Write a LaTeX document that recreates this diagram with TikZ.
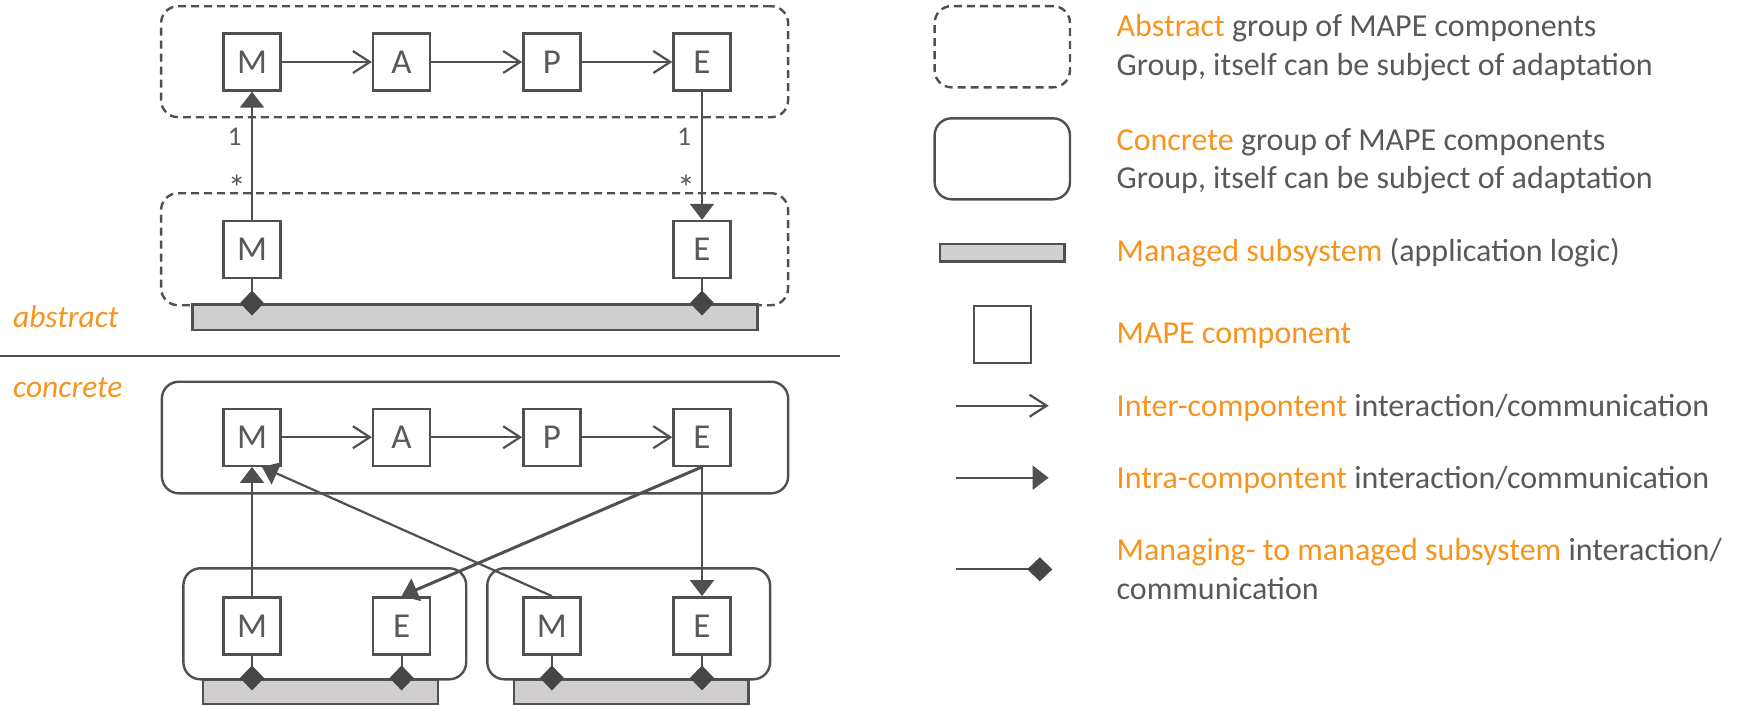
\documentclass[tikz,border=0pt]{standalone}
\usepackage{fontspec}
\setmainfont{Carlito}
\usetikzlibrary{arrows.meta}
\definecolor{ln}{HTML}{505050}
\definecolor{tx}{HTML}{595959}
\definecolor{org}{HTML}{F7941D}
\definecolor{barfill}{HTML}{D0CECE}
\definecolor{dia}{HTML}{464646}
\begin{document}
\begin{tikzpicture}[x=1pt,y=-1pt,
  comp/.style={draw=ln, line width=2.4pt, fill=white, minimum width=57pt, minimum height=57pt, inner sep=0pt, text=tx, font=\fontsize{35}{35}\selectfont},
  grp/.style={draw=ln, line width=2.4pt, rounded corners=17pt, inner sep=0pt},
  agrp/.style={grp, dash pattern=on 8pt off 5pt},
  sbar/.style={draw=ln, line width=2.6pt, fill=barfill, inner sep=0pt},
  inter/.style={draw=ln, line width=2.2pt, -{Straight Barb[length=17pt,width=22pt,line width=2.2pt]}},
  intra/.style={draw=ln, line width=2.2pt, -{Triangle[length=16pt,width=24pt]}},
  mng/.style={draw=ln, line width=2.2pt, -{Diamond[length=25pt,width=24pt,fill=dia,color=dia]}},
  lt/.style={anchor=base west, inner sep=0pt, text=tx, font=\fontsize{32}{36}\selectfont},
  side/.style={anchor=base west, inner sep=0pt, text=org, font=\fontsize{31.5}{36}\selectfont\itshape},
  mult/.style={anchor=base, inner sep=0pt, text=tx, font=\fontsize{27}{30}\selectfont}
]
\useasboundingbox (0,0) rectangle (1738,705);

% ---------- abstract part ----------
\node[agrp, minimum width=627pt, minimum height=111pt] (ga) at (474.6,61.7) {};
\node[agrp, minimum width=627pt, minimum height=112pt] (gb) at (474.6,249.2) {};
\node[sbar, minimum width=565pt, minimum height=25.7pt] (b1) at (475,317.2) {};

\node[comp] (M) at (252,62) {M};
\node[comp] (A) at (401.6,62) {A};
\node[comp] (P) at (551.9,62) {P};
\node[comp] (E) at (702,62) {E};
\node[comp] (M2) at (252,249.5) {M};
\node[comp] (E2) at (702,249.5) {E};

\draw[inter] (M) -- (A);
\draw[inter] (A) -- (P);
\draw[inter] (P) -- (E);
\draw[intra] (M2.north) -- (M.south);
\draw[intra] (E.south) -- (E2.north);
\draw[mng] (M2.south) -- ([yshift=-12.5pt]M2.south |- b1.north);
\draw[mng] (E2.south) -- ([yshift=-12.5pt]E2.south |- b1.north);

\node[mult] (m1) at (234.7,145) {1};
\node[mult, font=\fontsize{36}{36}\selectfont] (m2) at (236.8,200) {*};
\node[mult] (m3) at (684.2,145) {1};
\node[mult, font=\fontsize{36}{36}\selectfont] (m4) at (686,200) {*};

\node[side] (labA) at (13,327.3) {abstract};
\node[side] (labC) at (13,397.3) {concrete};
\coordinate (s1) at (0,356);
\coordinate (s2) at (840,356);
\draw[draw=ln, line width=1.5pt] (s1) -- (s2);

% ---------- concrete part ----------
\node[grp, minimum width=626.3pt, minimum height=111.6pt] (gc) at (475,437.5) {};
\node[grp, minimum width=282.8pt, minimum height=111pt] (gd) at (324.8,623.8) {};
\node[grp, minimum width=282.8pt, minimum height=111pt] (ge) at (628.7,623.8) {};
\node[sbar, minimum width=235pt, minimum height=24.7pt] (b2) at (320.5,691.6) {};
\node[sbar, minimum width=234.4pt, minimum height=24.7pt] (b3) at (631,691.6) {};

\node[comp] (Mc) at (252,437.2) {M};
\node[comp] (Ac) at (401.6,437.2) {A};
\node[comp] (Pc) at (551.9,437.2) {P};
\node[comp] (Ec) at (702,437.2) {E};
\node[comp] (M3) at (252,625.8) {M};
\node[comp] (E3) at (401.6,625.8) {E};
\node[comp] (M4) at (551.9,625.8) {M};
\node[comp] (E4) at (702,625.8) {E};

\draw[inter] (Mc) -- (Ac);
\draw[inter] (Ac) -- (Pc);
\draw[inter] (Pc) -- (Ec);
\draw[intra] (M3.north) -- (Mc.south);
\draw[intra] (M4.north) -- ([xshift=10pt]Mc.south);
\draw[intra, line width=3pt] (Ec.south) -- (E3.north);
\draw[intra] (Ec.south) -- (E4.north);
\draw[mng] (M3.south) -- ([yshift=-12.5pt]M3.south |- b2.north);
\draw[mng] (E3.south) -- ([yshift=-12.5pt]E3.south |- b2.north);
\draw[mng] (M4.south) -- ([yshift=-12.5pt]M4.south |- b3.north);
\draw[mng] (E4.south) -- ([yshift=-12.5pt]E4.south |- b3.north);

% ---------- legend ----------
\node[agrp, minimum width=135.3pt, minimum height=81.3pt] (lgA) at (1002.3,46.7) {};
\node[grp, minimum width=135.3pt, minimum height=81pt] (lgC) at (1002.3,158.8) {};
\node[sbar, minimum width=124.6pt, minimum height=17.7pt] (lgB) at (1002.3,252.9) {};
\node[comp] (lgM) at (1002.4,334.7) {};
\coordinate (i1) at (956,405.7);
\coordinate (i2) at (1048.6,405.7);
\coordinate (j1) at (956,477.7);
\coordinate (j2) at (1048.6,477.7);
\coordinate (k1) at (956,569.3);
\coordinate (k2) at (1052.3,569.3);
\draw[inter] (i1) -- (i2);
\draw[intra] (j1) -- (j2);
\draw[mng] (k1) -- (k2);

\node[lt] (t1) at (1116.5,36) {\textcolor{org}{Abstract} group of MAPE components};
\node[lt] (t2) at (1116.5,75) {Group, itself can be subject of adaptation};
\node[lt] (t3) at (1116.5,150) {\textcolor{org}{Concrete} group of MAPE components};
\node[lt] (t4) at (1116.5,188.3) {Group, itself can be subject of adaptation};
\node[lt] (t5) at (1116.5,261.7) {\textcolor{org}{Managed subsystem} (application logic)};
\node[lt] (t6) at (1116.5,343.3) {\textcolor{org}{MAPE component}};
\node[lt] (t7) at (1116.5,416.7) {\textcolor{org}{Inter-compontent} interaction/communication};
\node[lt] (t8) at (1116.5,488.3) {\textcolor{org}{Intra-compontent} interaction/communication};
\node[lt] (t9) at (1116.5,560) {\textcolor{org}{Managing- to managed subsystem} interaction/};
\node[lt] (t10) at (1116.5,599) {communication};
\end{tikzpicture}
\end{document}
